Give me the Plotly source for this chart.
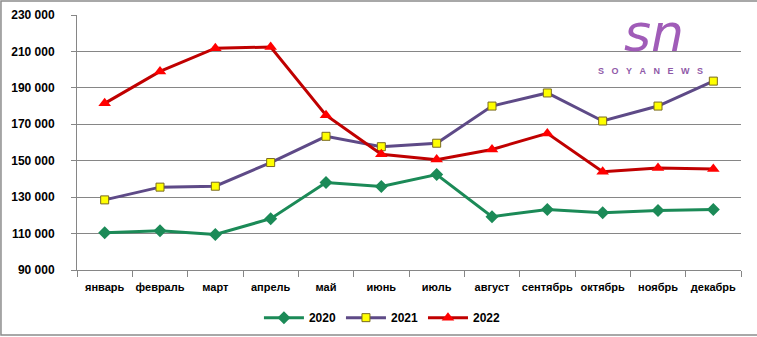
import plotly.graph_objects as go

months = ["январь", "февраль", "март", "апрель", "май", "июнь", "июль",
          "август", "сентябрь", "октябрь", "ноябрь", "декабрь"]
s2020 = [110500, 111600, 109500, 118200, 138000, 135800, 142400,
         119300, 123200, 121500, 122600, 123200]
s2021 = [128500, 135500, 136000, 149000, 163400, 157700, 159600,
         180000, 187200, 171800, 180000, 193700]
s2022 = [181500, 199000, 211800, 212400, 175000, 153500, 150600,
         156200, 165000, 144000, 146000, 145500]
y_ticks = [90000, 110000, 130000, 150000, 170000, 190000, 210000, 230000]
y_tick_labels = ["90 000", "110 000", "130 000", "150 000", "170 000",
                 "190 000", "210 000", "230 000"]

fig = go.Figure()
fig.add_trace(go.Scatter(
    x=months, y=s2020, name="2020", mode="lines+markers",
    line=dict(color="#1b8a57", width=3),
    marker=dict(symbol="diamond", size=10, color="#1b8a57",
                line=dict(color="#1b8a57", width=0))))
fig.add_trace(go.Scatter(
    x=months, y=s2021, name="2021", mode="lines+markers",
    line=dict(color="#5e4a87", width=3),
    marker=dict(symbol="square", size=8, color="#ffff00",
                line=dict(color="#7a6a20", width=1))))
fig.add_trace(go.Scatter(
    x=months, y=s2022, name="2022", mode="lines+markers",
    line=dict(color="#c00000", width=3),
    marker=dict(symbol="triangle-up", size=11, color="#ff0000",
                line=dict(color="#ff0000", width=0))))

font_family = "Liberation Sans, Arial, sans-serif"

fig.update_layout(
    width=757, height=337,
    margin=dict(l=77, r=16, t=15, b=67, autoexpand=False),
    paper_bgcolor="white", plot_bgcolor="white",
    font=dict(family=font_family, size=11, color="black"),
    showlegend=True,
    legend=dict(orientation="h", x=0.46, xanchor="center", y=-0.13,
                yanchor="top", font=dict(size=12, weight="bold"),
                itemwidth=40, traceorder="normal"),
    xaxis=dict(
        type="category", showgrid=False, showline=True, linecolor="#868686",
        linewidth=1, ticks="outside", tickson="boundaries", ticklen=6,
        tickcolor="#868686", tickfont=dict(size=11, weight="bold"),
        ticklabelstandoff=7,
        tickangle=0, automargin=False, range=[-0.5, 11.5]),
    yaxis=dict(
        range=[90000, 230000], tickvals=y_ticks, ticktext=y_tick_labels,
        showgrid=True, gridcolor="#868686", gridwidth=1,
        showline=True, linecolor="#868686", linewidth=1,
        ticks="outside", ticklen=5, tickcolor="#868686", automargin=False,
        ticklabelstandoff=14,
        tickfont=dict(size=12, weight="bold"), zeroline=False),
)

# outer chart border
fig.add_shape(type="rect", xref="paper", yref="paper",
              x0=-0.1145, x1=1.0753, y0=-0.2549, y1=1.0549,
              line=dict(color="#8c8c8c", width=1.5), layer="below")

# watermark logo
fig.add_annotation(xref="paper", yref="paper", x=0.869, y=1.055,
                   xanchor="center", yanchor="top",
                   text="<i>sn</i>", showarrow=False,
                   font=dict(family="DejaVu Sans, sans-serif", size=52,
                             color="#a05cb8"))
nb = "\u00a0\u00a0\u00a0"
fig.add_annotation(xref="paper", yref="paper", x=0.864, y=0.78,
                   xanchor="center", yanchor="middle",
                   text=nb.join("SOYANEWS"), showarrow=False,
                   font=dict(family=font_family, size=9, color="#8f5aa8",
                             weight="bold"))

fig.write_html("out.html")
